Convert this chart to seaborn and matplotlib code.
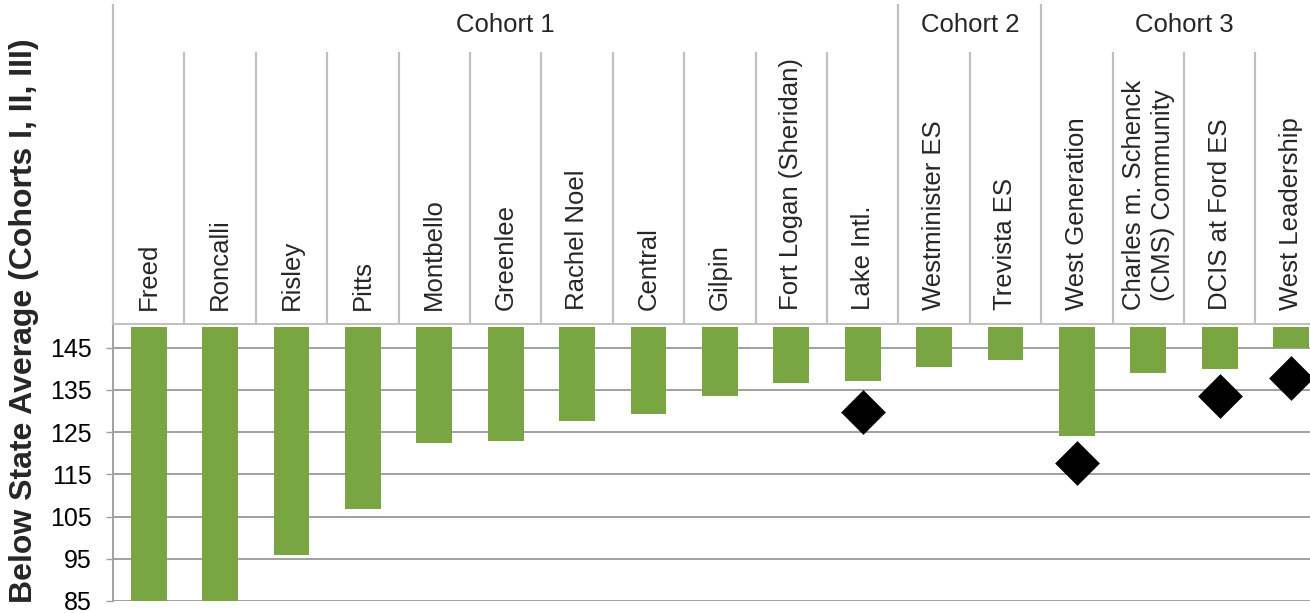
"""
Bars hanging from the top (150) down to each school's score, target diamonds,
two-row header (cohort / school) drawn above the axes.
"""
import numpy as np
import pandas as pd
import matplotlib
matplotlib.use("Agg")
import matplotlib.pyplot as plt
import matplotlib.transforms as mtrans
import seaborn as sns

# --- data ---
schools = ["Freed", "Roncalli", "Risley", "Pitts", "Montbello", "Greenlee", "Rachel Noel",
           "Central", "Gilpin", "Fort Logan (Sheridan)", "Lake Intl.", "Westminister ES",
           "Trevista ES", "West Generation", "Charles m. Schenck\n(CMS) Community",
           "DCIS at Ford ES", "West Leadership"]
scores = [84, 84, 95.9, 106.7, 122.4, 123.0, 127.6, 129.2, 133.5, 136.6, 137.2,
          140.5, 142.2, 124.0, 139.1, 139.9, 145.0]
targets = [np.nan] * 10 + [129.7, np.nan, np.nan, 117.6, np.nan, 133.5, 137.8]
cohorts = ["Cohort 1", "Cohort 2", "Cohort 3"]
cohort_size = [11, 2, 4]
yticks = [85, 95, 105, 115, 125, 135, 145]
TOP = 150
YLABEL = "Below State Average (Cohorts I, II, III)"

GREEN = "#79A543"
GRID = "#A0A0A0"
HEAD = "#C0C0C0"

sns.set_theme(style="white")
plt.rcParams["font.family"] = ["Liberation Sans", "DejaVu Sans"]

df = pd.DataFrame({"school": schools, "score": scores, "target": targets})
df["drop"] = df["score"] - TOP

W, H = 1310, 613
fig = plt.figure(figsize=(W / 100, H / 100), dpi=100)
# axes run past the right edge, the source picture is cropped there
ax = fig.add_axes([113 / W, 12 / H, (17 * 71.4) / W, (601 - 324.3) / H])

sns.barplot(data=df, x="school", y="drop", bottom=TOP, order=schools, color=GREEN,
            saturation=1, width=0.5, errorbar=None, linewidth=0, ax=ax, zorder=2)
sns.scatterplot(data=df, x="school", y="target", marker="D", s=520, color="black",
                linewidth=0, ax=ax, zorder=3, clip_on=False)

ax.set_xlim(-0.5, len(schools) - 0.5)
ax.set_ylim(85, 150.55)
ax.set_yticks(yticks)
ax.yaxis.grid(True, color=GRID, lw=1.4)
ax.xaxis.grid(False)
ax.set_axisbelow(True)
ax.set_xticks([])
ax.set_xlabel("")
ax.set_ylabel("")
ax.tick_params(axis="y", left=True, length=5, width=1, color=GRID, pad=10.5,
               labelsize=18, labelcolor="black")
for s in ["right", "bottom"]:
    ax.spines[s].set_visible(False)
ax.spines["left"].set_color(GRID)
ax.spines["left"].set_linewidth(1.4)
ax.spines["top"].set_color(HEAD)
ax.spines["top"].set_linewidth(1.4)

# --- header: school names + cohort row ---
tr = mtrans.blended_transform_factory(ax.transData, fig.transFigure)
cat_top = 1 - 52 / H
coh_top = 1 - 4 / H
hdr_bot = 1 - 324.3 / H

for i, name in enumerate(schools):
    ax.text(i, 1 - 310 / H, name, transform=tr, rotation=90, ha="center", va="bottom",
            multialignment="center", fontsize=18.5, linespacing=1.25, clip_on=False)

bounds = np.cumsum([0] + cohort_size) - 0.5
for b in np.arange(-0.5, len(schools), 1.0):
    top = coh_top if b in bounds else cat_top
    ax.vlines(b, hdr_bot, top, transform=tr, color=HEAD, lw=1.6, clip_on=False)

for name, lo, hi in zip(cohorts, bounds[:-1], bounds[1:]):
    ax.text((lo + hi) / 2, 1 - 25 / H, name, transform=tr, ha="center", va="center",
            fontsize=18.5, clip_on=False)

fig.text(24 / W, 1 - 321 / H, YLABEL, rotation=90, ha="center", va="center",
         fontsize=23, fontweight="bold")

fig.savefig("out.png", dpi=100)
